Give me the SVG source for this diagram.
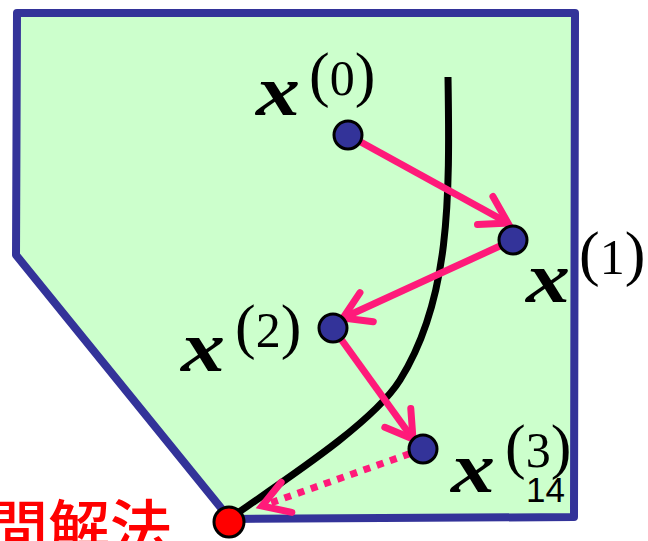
<svg xmlns="http://www.w3.org/2000/svg" width="648" height="541" viewBox="0 0 648 541">
<defs>
<style>
.region-fill{fill:#CCFFCC;stroke:none}
.region-line{fill:none;stroke:#333399;stroke-width:8;stroke-linejoin:round}
.path{fill:none;stroke:#000;stroke-width:7}
.arrow{fill:none;stroke:#FF1A7A;stroke-width:7}
.dotted{stroke-dasharray:7 7}
.pt{fill:#333399;stroke:#000;stroke-width:3}
.opt{fill:#FF0000;stroke:#000;stroke-width:3}
.mx{font-family:"Liberation Serif",serif;font-weight:bold;font-style:italic;font-size:72px;fill:#000}
.par{font-family:"Liberation Serif",serif;font-size:62px;fill:#000}
.dig{font-family:"Liberation Serif",serif;font-size:50px;fill:#000}
.pg{font-family:"Liberation Sans",sans-serif;font-size:35px;fill:#000}
.jp{font-family:"Noto Sans CJK JP","Noto Sans CJK SC",sans-serif;font-weight:500;font-size:62px;fill:#FF0000}
</style>
<marker id="ah" markerUnits="userSpaceOnUse" viewBox="-40 -30 50 60" markerWidth="50" markerHeight="60" refX="0" refY="0" orient="auto" overflow="visible">
<path d="M-26,-16 L0,0 L-26,16" fill="none" stroke="#FF1A7A" stroke-width="7" stroke-dasharray="none" stroke-linecap="round"/>
</marker>
</defs>
<g id="region">
<polygon class="region-fill" points="17,13 575,13 574,517 230,519 16,255"/>
</g>
<g id="labels">
<text class="mx" x="256" y="115" textLength="44" lengthAdjust="spacingAndGlyphs">x</text>
<text x="309" y="95"><tspan class="par">(</tspan><tspan class="dig">0</tspan><tspan class="par">)</tspan></text>
<text class="mx" x="526" y="302" textLength="44" lengthAdjust="spacingAndGlyphs">x</text>
<text x="579" y="274"><tspan class="par">(</tspan><tspan class="dig">1</tspan><tspan class="par">)</tspan></text>
<text class="mx" x="181" y="371" textLength="44" lengthAdjust="spacingAndGlyphs">x</text>
<text x="235" y="347"><tspan class="par">(</tspan><tspan class="dig">2</tspan><tspan class="par">)</tspan></text>
<text class="mx" x="451" y="492" textLength="44" lengthAdjust="spacingAndGlyphs">x</text>
<text x="505" y="467"><tspan class="par">(</tspan><tspan class="dig">3</tspan><tspan class="par">)</tspan></text>
<text class="pg" x="526" y="502">14</text>
<text class="jp" x="172" y="552" text-anchor="end">間解法</text>
</g>
<g id="region-border">
<polygon class="region-line" points="17,13 575,13 574,517 230,519 16,255"/>
</g>
<g id="central-path">
<path class="path" d="M448,77 C450,200 450,300 400,380 C375,420 300,470 236,514"/>
</g>
<g id="connectors">
<line class="arrow" x1="348" y1="135" x2="508" y2="223" marker-end="url(#ah)"/>
<line class="arrow" x1="513" y1="240" x2="343" y2="318" marker-end="url(#ah)"/>
<line class="arrow" x1="333" y1="328" x2="413" y2="439" marker-end="url(#ah)"/>
<line class="arrow dotted" x1="423" y1="449" x2="262" y2="506" marker-end="url(#ah)"/>
</g>
<g id="x0"><circle class="pt" cx="348" cy="135" r="14"/></g>
<g id="x1"><circle class="pt" cx="513" cy="240" r="14"/></g>
<g id="x2"><circle class="pt" cx="333" cy="328" r="14"/></g>
<g id="x3"><circle class="pt" cx="423" cy="449" r="14"/></g>
<g id="optimum"><circle class="opt" cx="229" cy="522" r="15"/></g>
</svg>
